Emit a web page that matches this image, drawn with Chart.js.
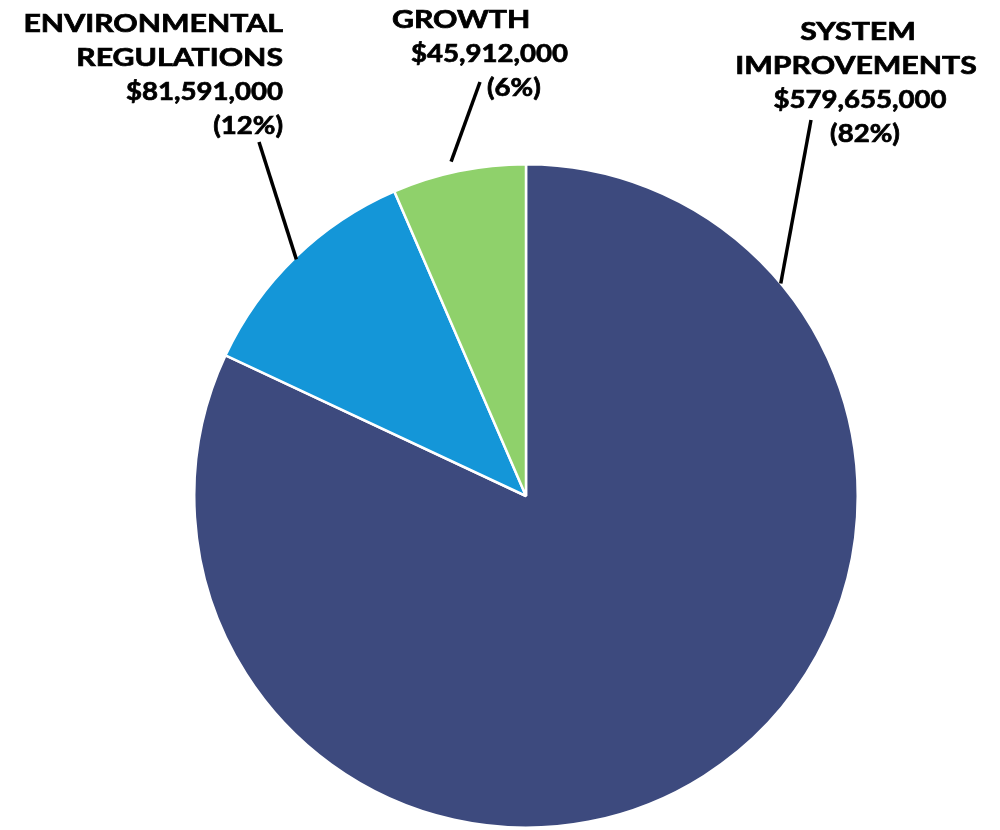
<!DOCTYPE html>
<html>
<head>
<meta charset="utf-8">
<script src="https://cdn.jsdelivr.net/npm/chart.js@4.4.1/dist/chart.umd.min.js"></script>
<style>
  html, body { margin: 0; padding: 0; background: #fff; }
  #wrap { width: 1000px; height: 830px; position: relative; }
</style>
</head>
<body>
<div id="wrap"><canvas id="pie"></canvas></div>
<script>
// data
const categories = ['SYSTEM IMPROVEMENTS', 'ENVIRONMENTAL REGULATIONS', 'GROWTH'];
const amounts = [579655000, 81591000, 45912000];
const sliceColors = ['#3D4A7E', '#1496D8', '#8FD16B'];

// label text lines (name part), money and percent are added from the data
const labelLines = [
    ['SYSTEM', 'IMPROVEMENTS'],
    ['ENVIRONMENTAL', 'REGULATIONS'],
    ['GROWTH']
];
// label layout: x of each line (meaning depends on align), first line y, leader line end, anchor in slice
const labelBoxes = [
    { xs: [858, 856, 860, 865], y: 32, align: 'center', lineEnd: [811, 120], frac: 0.17, out: 0 },
    { xs: [283, 283, 283, 283], y: 24, align: 'right', lineEnd: [259, 142], frac: 0.5, out: -2 },
    { xs: [392, 411, 487], y: 20, align: 'left', lineEnd: [480, 82], frac: 0.46, out: 11 }
];

const total = amounts.reduce((a, b) => a + b, 0);
const fmtMoney = v => '$' + v.toLocaleString('en-US');

// text stretched sideways (the original face is a wide Gill Sans like bold)
function drawWide(c, text, x, y, align, sx) {
    const w = c.measureText(text).width * sx;
    let left = x;
    if (align === 'right') left = x - w;
    else if (align === 'center') left = x - w / 2;
    c.save();
    c.translate(left, y);
    c.scale(sx, 1);
    c.textAlign = 'left';
    c.fillText(text, 0, 0);
    c.strokeText(text, 0, 0);
    c.restore();
}

// draws the callout labels with leader lines
const calloutPlugin = {
    id: 'callouts',
    afterDraw(chart) {
        const c = chart.ctx;
        const arcs = chart.getDatasetMeta(0).data;
        c.save();
        arcs.forEach((arc, i) => {
            const box = labelBoxes[i];
            const ang = arc.startAngle + (arc.endAngle - arc.startAngle) * box.frac;
            const r = arc.outerRadius + box.out;
            c.strokeStyle = '#000';
            c.lineWidth = 3.5;
            c.beginPath();
            c.moveTo(arc.x + Math.cos(ang) * r, arc.y + Math.sin(ang) * r);
            c.lineTo(box.lineEnd[0], box.lineEnd[1]);
            c.stroke();

            c.font = 'bold 24px Lato';
            c.fillStyle = '#000';
            c.lineWidth = 0.7;
            c.textBaseline = 'middle';
            const pct = '(' + Math.round(amounts[i] / total * 100) + '%)';
            const names = labelLines[i];
            const lines = names.concat([fmtMoney(amounts[i]), pct]);
            lines.forEach((t, k) => {
                const sx = k < names.length ? 1.26 : 1.15;
                drawWide(c, t, box.xs[k], box.y + k * 34, box.align, sx);
            });
        });
        c.restore();
    }
};

new Chart(document.getElementById('pie'), {
    type: 'pie',
    data: {
        labels: categories,
        datasets: [{
            data: amounts,
            backgroundColor: sliceColors,
            borderColor: '#fff',
            borderWidth: 2.5
        }]
    },
    options: {
        responsive: true,
        maintainAspectRatio: false,
        animation: false,
        layout: { padding: { top: 163, bottom: 1, left: 193, right: 141 } },
        plugins: {
            legend: { display: false },
            tooltip: { enabled: false }
        }
    },
    plugins: [calloutPlugin]
});
</script>
</body>
</html>
